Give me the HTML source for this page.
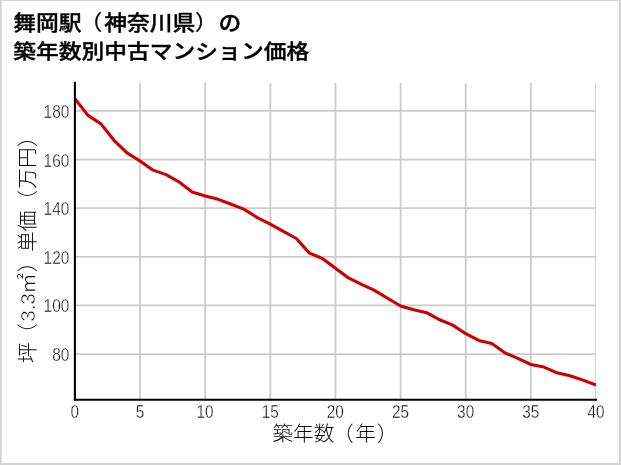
<!DOCTYPE html>
<html lang="ja">
<head>
<meta charset="utf-8">
<title>舞岡駅（神奈川県）の築年数別中古マンション価格</title>
<style>
html,body{margin:0;padding:0;background:#fff;}
body{width:621px;height:465px;overflow:hidden;}
svg{display:block;}
text{font-family:"Liberation Sans","Noto Sans CJK JP",sans-serif;fill:#0a0a0a;}
.title{font-weight:500;font-size:22.77px;fill:#000;stroke:#000;stroke-width:0.4px;stroke-linejoin:round;}
.tick{font-size:18.3px;font-weight:400;stroke:#fff;stroke-width:0.35px;}
.lab{font-size:20.7px;font-weight:300;}
.tp{font-weight:400;stroke-width:0.3px;}
.thin{stroke:#fff;stroke-width:0.5px;}
.grid line{stroke:#cccccc;stroke-width:1.8;}
</style>
</head>
<body>
<svg width="621" height="465" viewBox="0 0 621 465">
<rect x="0" y="0" width="621" height="465" fill="#d3d3d3"/>
<rect x="1.75" y="1" width="617.25" height="461.9" fill="#ffffff"/>
<text class="title" transform="translate(13.3,30.3) scale(1,0.92)">舞岡駅<tspan class="tp" dx="-2">（</tspan><tspan dx="1.9">神</tspan>奈川県<tspan class="tp" dx="-0.3">）</tspan><tspan dx="0.8">の</tspan></text>
<text class="title" transform="translate(13.3,58.8) scale(1,0.915)">築年数別中古マンション価格</text>
<defs><clipPath id="plotclip"><rect x="74.9" y="82.9" width="521.12" height="316.9"/></clipPath></defs>
<g class="grid" clip-path="url(#plotclip)">
<line x1="140.04" y1="82.9" x2="140.04" y2="399.8"/>
<line x1="205.18" y1="82.9" x2="205.18" y2="399.8"/>
<line x1="270.32" y1="82.9" x2="270.32" y2="399.8"/>
<line x1="335.46" y1="82.9" x2="335.46" y2="399.8"/>
<line x1="400.60" y1="82.9" x2="400.60" y2="399.8"/>
<line x1="465.74" y1="82.9" x2="465.74" y2="399.8"/>
<line x1="530.88" y1="82.9" x2="530.88" y2="399.8"/>
<line x1="596.02" y1="82.9" x2="596.02" y2="399.8"/>
<line x1="74.9" y1="354.07" x2="597.02" y2="354.07"/>
<line x1="74.9" y1="305.45" x2="597.02" y2="305.45"/>
<line x1="74.9" y1="256.83" x2="597.02" y2="256.83"/>
<line x1="74.9" y1="208.21" x2="597.02" y2="208.21"/>
<line x1="74.9" y1="159.59" x2="597.02" y2="159.59"/>
<line x1="74.9" y1="110.97" x2="597.02" y2="110.97"/>
</g>
<polyline clip-path="url(#plotclip)" points="74.90,98.60 87.93,115.40 100.96,123.90 113.98,140.30 127.01,152.90 140.04,161.00 153.07,170.15 166.10,174.65 179.12,182.00 192.15,191.90 205.18,196.10 218.21,199.35 231.24,204.30 244.26,209.40 257.29,217.60 270.32,224.20 283.35,231.40 296.38,238.50 309.40,253.15 322.43,258.50 335.46,268.30 348.49,277.95 361.52,284.40 374.54,290.35 387.57,298.25 400.60,306.00 413.63,309.85 426.66,312.70 439.68,319.80 452.71,325.10 465.74,333.70 478.77,340.40 491.80,343.45 504.82,352.80 517.85,358.45 530.88,364.50 543.91,367.05 556.94,372.80 569.96,375.75 582.99,380.15 596.02,384.95" fill="none" stroke="#cc0000" stroke-width="3.1" stroke-linejoin="round" stroke-linecap="butt"/>
<line x1="74.9" y1="82.9" x2="74.9" y2="399.8" stroke="#000" stroke-width="2.1" stroke-linecap="square"/>
<line x1="74.9" y1="399.8" x2="596.02" y2="399.8" stroke="#000" stroke-width="2.1" stroke-linecap="square"/>
<g class="tick">
<text transform="translate(74.80,418) scale(0.84,1)" text-anchor="middle">0</text>
<text transform="translate(139.94,418) scale(0.84,1)" text-anchor="middle">5</text>
<text transform="translate(205.08,418) scale(0.84,1)" text-anchor="middle">10</text>
<text transform="translate(270.22,418) scale(0.84,1)" text-anchor="middle">15</text>
<text transform="translate(335.36,418) scale(0.84,1)" text-anchor="middle">20</text>
<text transform="translate(400.50,418) scale(0.84,1)" text-anchor="middle">25</text>
<text transform="translate(465.64,418) scale(0.84,1)" text-anchor="middle">30</text>
<text transform="translate(530.78,418) scale(0.84,1)" text-anchor="middle">35</text>
<text transform="translate(595.92,418) scale(0.84,1)" text-anchor="middle">40</text>
<text transform="translate(69.4,361.07) scale(0.845,1)" text-anchor="end">80</text>
<text transform="translate(69.4,312.45) scale(0.845,1)" text-anchor="end">100</text>
<text transform="translate(69.4,263.83) scale(0.845,1)" text-anchor="end">120</text>
<text transform="translate(69.4,215.21) scale(0.845,1)" text-anchor="end">140</text>
<text transform="translate(69.4,166.59) scale(0.845,1)" text-anchor="end">160</text>
<text transform="translate(69.4,117.97) scale(0.845,1)" text-anchor="end">180</text>
</g>
<text class="lab" x="335" y="441" text-anchor="middle">築年数<tspan dx="-1.6">（</tspan><tspan dx="1.6">年</tspan><tspan dx="1">）</tspan></text>
<text class="lab" transform="translate(34.7,0) rotate(-90)" x="-362.90 -344.10 -321.70 -310.30 -304.70 -293.80 -272.30 -251.90 -231.20 -210.70 -188.75 -167.90 -147.00">坪（<tspan class="thin">3.3</tspan>㎡）単価（万円）</text>
</svg>
</body>
</html>
